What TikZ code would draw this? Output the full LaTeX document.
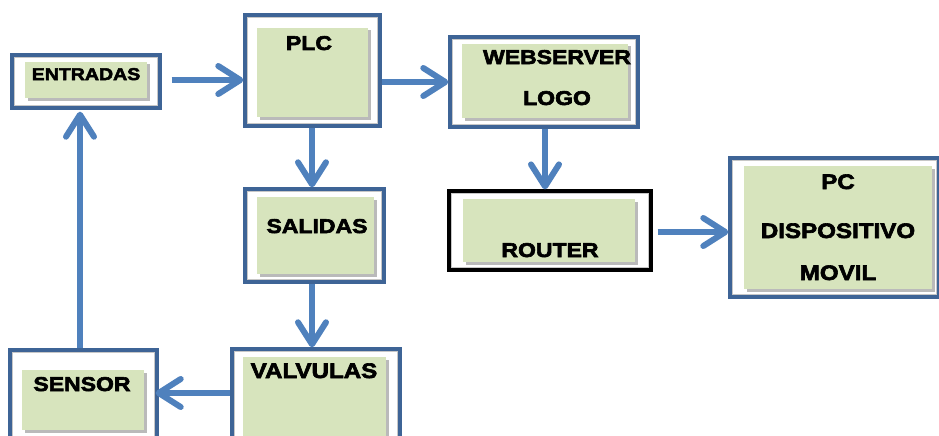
\documentclass[tikz,border=0pt]{standalone}
\usepackage{fontspec}
\newfontfamily\lblfont[FakeStretch=1.15,FakeBold=3]{Liberation Sans Bold}
\usetikzlibrary{arrows.meta,shadows}
\definecolor{arrowblue}{HTML}{4F81BD}
\definecolor{frameblue}{HTML}{3E6496}
\definecolor{boxgreen}{HTML}{D7E4BD}
\tikzset{
  frame/.style={draw=frameblue, line width=3.4pt, fill=white, inner sep=0pt},
  blackframe/.style={draw=black, line width=3.2pt, fill=white, inner sep=0pt},
  innerline/.style={draw=black!22, line width=1.2pt},
  greenbox/.style={fill=boxgreen, drop shadow={shadow xshift=2.5pt, shadow yshift=-2.5pt, fill=black!45, opacity=0.6}},
  lbl/.style={font=\lblfont\fontsize{20}{22}\selectfont, anchor=base, inner sep=0pt},
  lblbig/.style={lbl, font=\lblfont\fontsize{21}{23}\selectfont},
  flow/.style={draw=arrowblue, line width=6pt, -{Straight Barb[length=22pt,width=28pt,round]}},
}
\newcommand{\inset}[1]{\draw[innerline] ([shift={(4pt,-4pt)}]#1.north west) rectangle ([shift={(-4pt,4pt)}]#1.south east);}
\begin{document}
\begin{tikzpicture}[x=1pt,y=-1pt]
\clip (0,0) rectangle (939,436);
\fill[white] (0,0) rectangle (939,436);
% ENTRADAS
\node[frame, minimum width=148pt, minimum height=53pt] (entr) at (86,81.5) {};
\inset{entr}
\fill[greenbox] (25,62) rectangle (147,98);
\node[lbl, font=\lblfont\fontsize{17}{19}\selectfont] (tentr) at (86,80) {ENTRADAS};
% PLC
\node[frame, minimum width=135pt, minimum height=111pt] (plc) at (312.5,70.5) {};
\inset{plc}
\fill[greenbox] (257,28) rectangle (368,117);
\node[lbl] (tplc) at (309,50) {PLC};
% WEBSERVER
\node[frame, minimum width=188pt, minimum height=90pt] (web) at (544,82) {};
\inset{web}
\fill[greenbox] (462,44) rectangle (628,118);
\node[lbl] (tweb1) at (557,64) {WEBSERVER};
\node[lbl] (tweb2) at (557,105) {LOGO};
% ROUTER
\node[blackframe, minimum width=202pt, minimum height=79pt] (rout) at (550,230.5) {};
\inset{rout}
\fill[greenbox] (463,199) rectangle (635,262);
\node[lbl] (trout) at (550,257) {ROUTER};
% PC
\node[frame, minimum width=209pt, minimum height=139pt] (pc) at (834.5,227.5) {};
\inset{pc}
\fill[greenbox] (744,166) rectangle (932,289);
\node[lblbig] (tpc1) at (838,189) {PC};
\node[lblbig] (tpc2) at (838,238) {DISPOSITIVO};
\node[lblbig] (tpc3) at (838,280) {MOVIL};
% SALIDAS
\node[frame, minimum width=139pt, minimum height=93pt] (sal) at (314.5,235.5) {};
\inset{sal}
\fill[greenbox] (257,197) rectangle (374,274);
\node[lbl] (tsal) at (317,233) {SALIDAS};
% VALVULAS
\node[frame, minimum width=168pt, minimum height=100pt] (val) at (316,399) {};
\inset{val}
\fill[greenbox] (243,357) rectangle (386,440);
\node[lblbig] (tval) at (314,378) {VALVULAS};
% SENSOR
\node[frame, minimum width=147pt, minimum height=100pt] (sens) at (83.5,400) {};
\inset{sens}
\fill[greenbox] (22,370) rectangle (144,430);
\node[lbl] (tsens) at (82,391) {SENSOR};
% connectors
\draw[flow, shorten <=10pt] (entr.east |- 0,80) -- (plc.west |- 0,80);
\draw[flow] (plc.east |- 0,82) -- (web.west |- 0,82);
\draw[flow] (plc.south -| 312,0) -- (sal.north -| 312,0);
\draw[flow] (sal.south -| 312,0) -- (val.north -| 312,0);
\draw[flow, shorten >=-3pt] (val.west |- 0,393) -- (sens.east |- 0,393);
\draw[flow, shorten >=2pt] (sens.north -| 80,0) -- (entr.south -| 80,0);
\draw[flow] (web.south -| 545,0) -- (rout.north -| 545,0);
\draw[flow, shorten <=5pt] (rout.east |- 0,232) -- (pc.west |- 0,232);
\end{tikzpicture}
\end{document}
